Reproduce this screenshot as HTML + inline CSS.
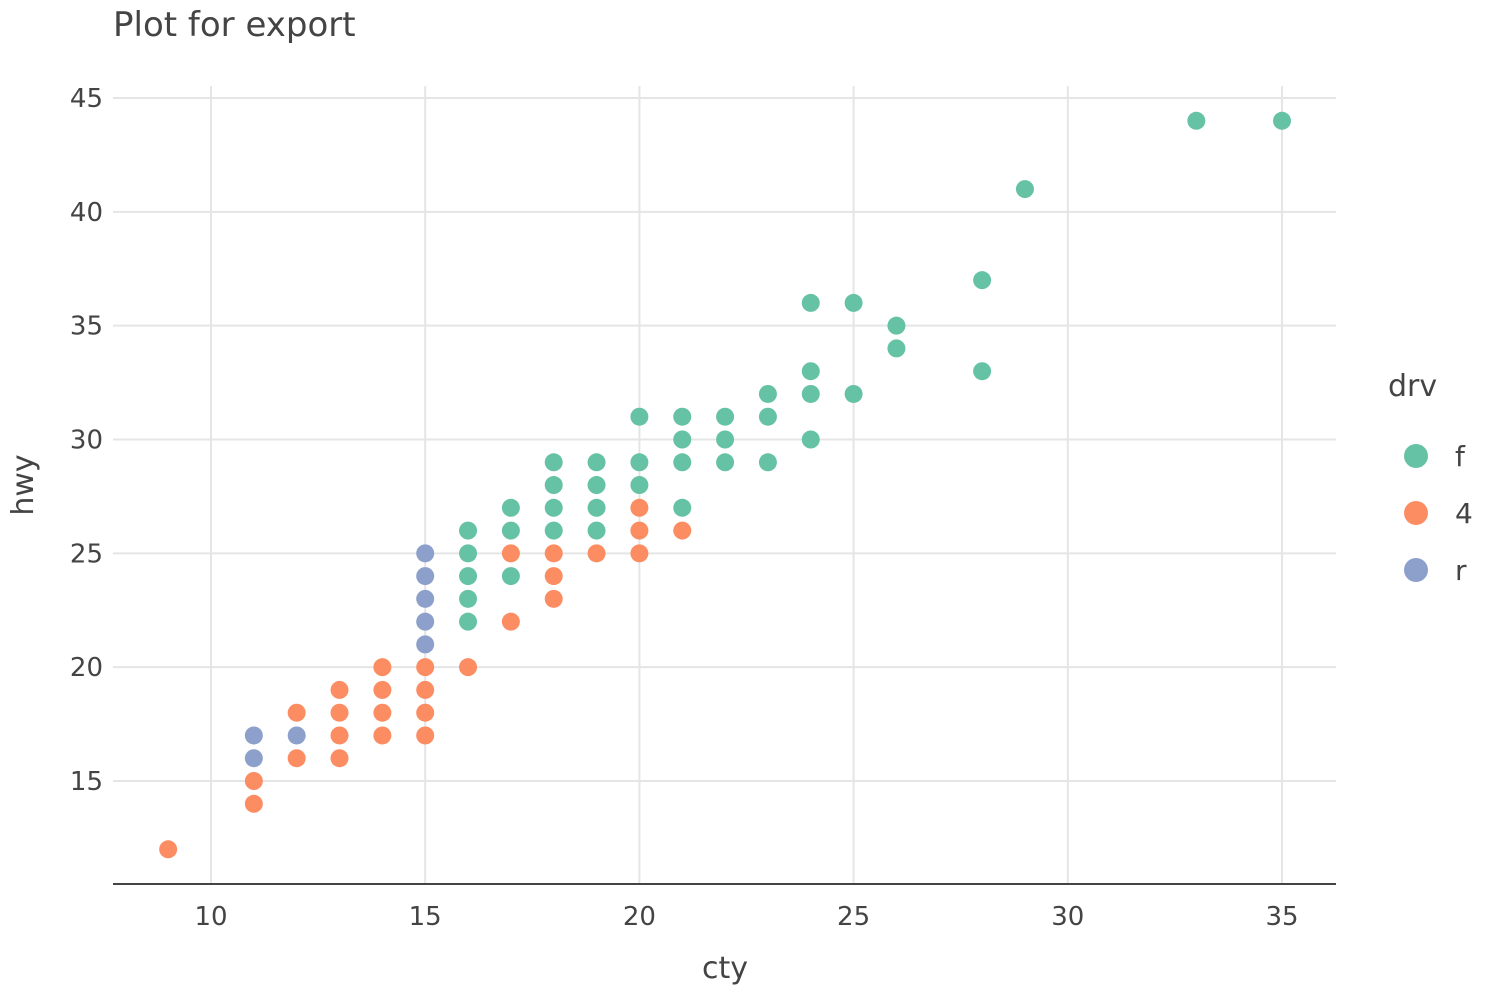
<!DOCTYPE html>
<html><head><meta charset="utf-8"><style>
body{margin:0;background:#fff}
svg text{font-family:"DejaVu Sans","Liberation Sans",sans-serif;fill:#444}
</style></head><body>
<svg id="chart" width="1500" height="1000">
<text x="113" y="36" font-size="34">Plot for export</text>
<g id="grid"></g><g id="axes"></g><g id="pts"></g>
<text x="725" y="978" font-size="30" text-anchor="middle">cty</text>
<text x="0" y="0" font-size="30" text-anchor="middle" transform="translate(33,485) rotate(-90)">hwy</text>
<text x="1388" y="396" font-size="30">drv</text>
<g id="legend"></g>
</svg>
<script>
const xTicks=[10,15,20,25,30,35];
const yTicks=[15,20,25,30,35,40,45];
const groups=['f','4','r'];
const colors=['#66c2a5','#fc8d62','#8da0cb'];
const fCty=[33,35,29,28,28,24,25,26,26,24,24,25,24,23,23,23,22,22,22,21,21,21,21,20,20,20,19,19,19,19,18,18,18,18,17,17,17,16,16,16,16,16];
const fHwy=[44,44,41,37,33,36,36,35,34,33,32,32,30,32,31,29,31,30,29,31,30,29,27,31,29,28,29,28,27,26,29,28,27,26,27,26,24,26,25,24,23,22];
const dCty=[9,11,11,12,12,13,13,13,13,14,14,14,14,15,15,15,15,16,17,17,18,18,18,19,20,20,20,21];
const dHwy=[12,15,14,18,16,19,18,17,16,20,19,18,17,20,19,18,17,20,25,22,25,24,23,25,27,26,25,26];
const rCty=[11,11,12,15,15,15,15,15];
const rHwy=[17,16,17,25,24,23,22,21];
const NS='http://www.w3.org/2000/svg';
const xs=v=>211+(v-10)*(1282-211)/25;
const ys=v=>781-(v-15)*(781-98)/30;
function mk(tag,attrs,parent,text){const e=document.createElementNS(NS,tag);for(const k in attrs)e.setAttribute(k,attrs[k]);if(text!==undefined)e.textContent=text;document.getElementById(parent).appendChild(e);return e;}
xTicks.forEach(t=>{
 const l=mk('line',{x1:xs(t),x2:xs(t),y1:86,y2:884,stroke:'#e5e5e5','stroke-width':2},'grid');
 
 
 const tx=mk('text',{x:xs(t),y:925,'font-size':26,'text-anchor':'middle'},'axes',t);
 
 
});
yTicks.forEach(t=>{
 const l=mk('line',{x1:113,x2:1336,y1:ys(t),y2:ys(t),stroke:'#e5e5e5','stroke-width':2},'grid');
 
 
 const tx=mk('text',{x:103,y:ys(t)+9,'font-size':26,'text-anchor':'end'},'axes',t);
 
 
});
const ax=mk('line',{x1:113,x2:1336,y1:884,y2:884,stroke:'#444','stroke-width':2},'axes');


[[fCty,fHwy,0],[dCty,dHwy,1],[rCty,rHwy,2]].forEach(([cx,cy,g])=>{
 cx.forEach((v,i)=>{
  const c=mk('circle',{cx:xs(v),cy:ys(cy[i]),r:9,fill:colors[g]},'pts');
  
  
 });
});
groups.forEach((g,i)=>{
 const y=456+i*57;
 const c=mk('circle',{cx:1416,cy:y,r:12,fill:colors[i]},'legend');
 
 
 const t=mk('text',{x:1455,y:y+10,'font-size':28},'legend',g);
 
 
});
</script>
</body></html>
